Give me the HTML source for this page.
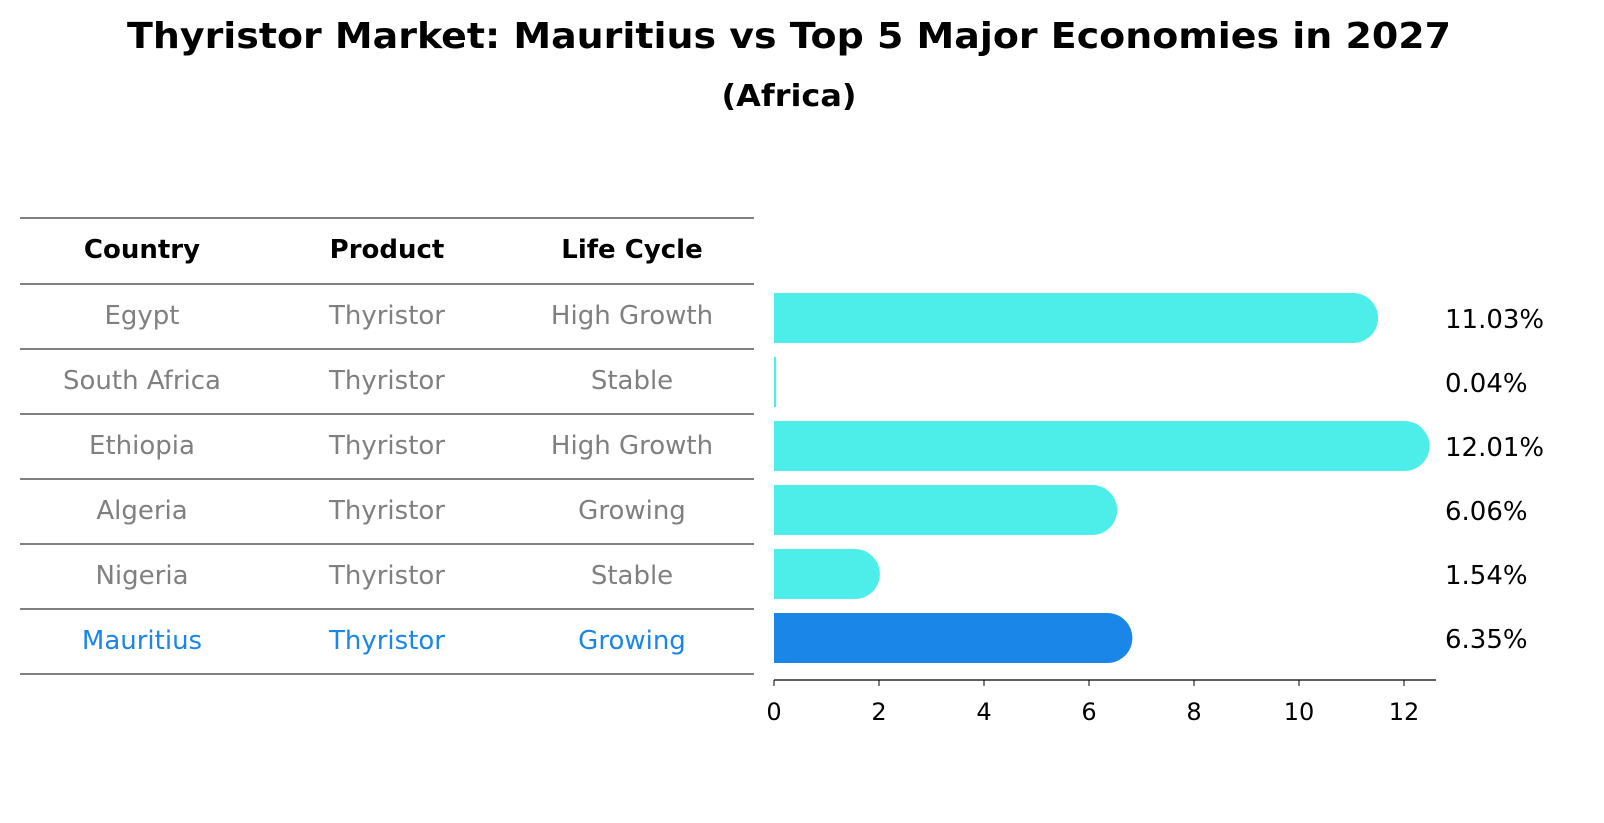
<!DOCTYPE html>
<html><head><meta charset="utf-8"><style>
html,body{margin:0;padding:0;background:#fff;overflow:hidden;font-family:"Liberation Sans","DejaVu Sans",sans-serif}
svg{display:block}
svg text{font-family:"DejaVu Sans","Liberation Sans",sans-serif}
</style></head><body>
<svg id="chart" width="1604" height="823" viewBox="0 0 1604 823">
<text x="789" y="48" text-anchor="middle" font-size="36" font-weight="bold" textLength="1324" lengthAdjust="spacingAndGlyphs">Thyristor Market: Mauritius vs Top 5 Major Economies in 2027</text>
<text x="789" y="106" text-anchor="middle" font-size="30" font-weight="bold" textLength="135" lengthAdjust="spacingAndGlyphs">(Africa)</text>
<g id="table"></g>
<g id="bars"></g>
</svg>
<script>
const countries=["Egypt","South Africa","Ethiopia","Algeria","Nigeria","Mauritius"];
const products=["Thyristor","Thyristor","Thyristor","Thyristor","Thyristor","Thyristor"];
const lifeCycles=["High Growth","Stable","High Growth","Growing","Stable","Growing"];
const values=[11.03,0.04,12.01,6.06,1.54,6.35];
const ticks=[0,2,4,6,8,10,12];
const NS="http://www.w3.org/2000/svg";
function mk(tag,attrs,parent,text){const e=document.createElementNS(NS,tag);for(const k in attrs)e.setAttribute(k,attrs[k]);if(text!==undefined)e.textContent=text;parent.appendChild(e);return e;}
const x0=774,pxPer=52.5;
const xs=v=>x0+v*pxPer;
const rowY=i=>318+i*64;
const tbl=document.getElementById('table');
const lineYs=[218,284];
countries.forEach((c,i)=>lineYs.push(284+(i+1)*65));
lineYs.forEach((y,i)=>{const l=mk('line',{x1:20,x2:754,y1:y,y2:y,stroke:'#000','stroke-width':1},tbl);

});
const cols=[142,387,632];
["Country","Product","Life Cycle"].forEach((h,j)=>{const t=mk('text',{x:cols[j],y:258,'text-anchor':'middle','font-size':26,'font-weight':'bold'},tbl,h);

});
countries.forEach((c,i)=>{const y=324+i*65;const col=i===countries.length-1?'#1a86e8':'#808080';
[c,products[i],lifeCycles[i]].forEach((v,j)=>{const t=mk('text',{x:cols[j],y:y,'text-anchor':'middle','font-size':26,fill:col},tbl,v);

});});
const g=document.getElementById('bars');
values.forEach((v,i)=>{const cy=rowY(i),h=50,r=25;const w=xs(v)-x0;const col=i===values.length-1?'#1a86e8':'#4deee9';
let d;if(w<r){d=`M${x0},${cy-h/2}h${Math.max(w,1)}v${h}h${-Math.max(w,1)}z`;}else{d=`M${x0},${cy-h/2}H${x0+w}A${r},${r} 0 0 1 ${x0+w},${cy+h/2}H${x0}Z`;}
const p=mk('path',{d:d,fill:col},g);


const t=mk('text',{x:1445,y:cy+10,'font-size':26},g,v.toFixed(2)+'%');

});
const ax=mk('line',{x1:x0,x2:1436,y1:680,y2:680,stroke:'#000','stroke-width':1.2},g);


ticks.forEach(t=>{const tl=mk('line',{x1:xs(t),x2:xs(t),y1:680,y2:686,stroke:'#000'},g);


const tx=mk('text',{x:xs(t),y:720,'text-anchor':'middle','font-size':24},g,String(t));

});
</script>
</body></html>
